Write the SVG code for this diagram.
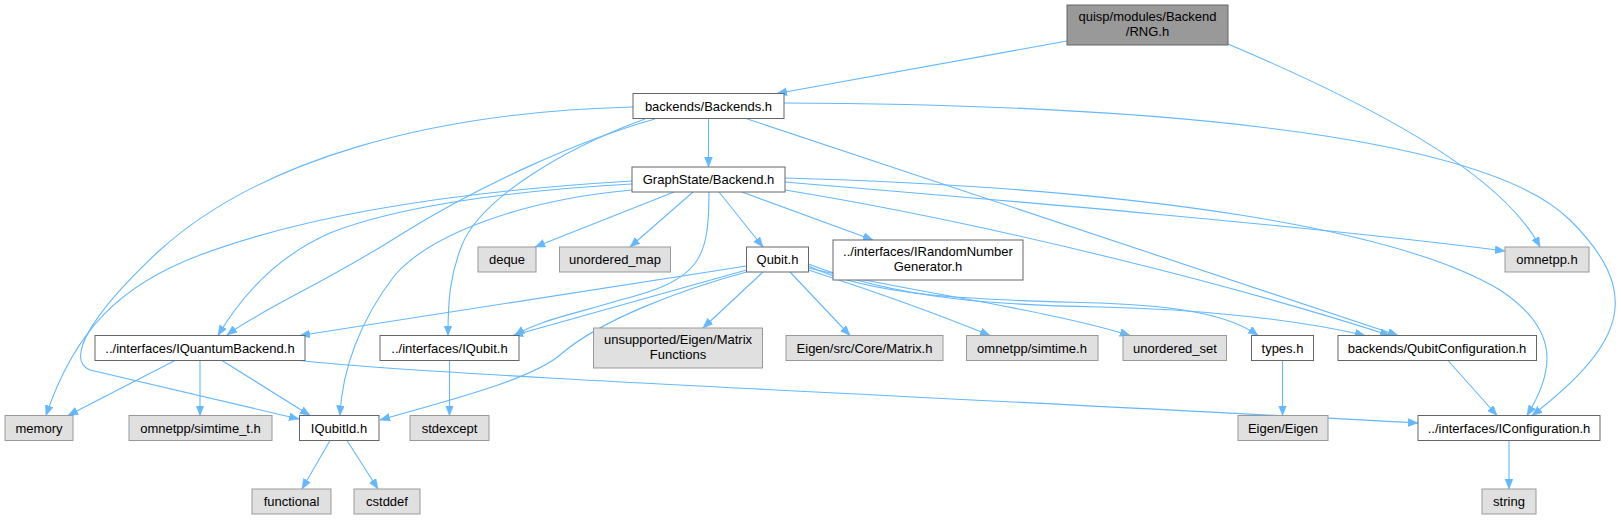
<svg xmlns="http://www.w3.org/2000/svg" width="1621" height="520" viewBox="0 0 1621 520">
<style>
.n rect{stroke-width:1}
.w rect{fill:#ffffff;stroke:#666666}
.g rect{fill:#e0e0e0;stroke:#999999}
.r rect{fill:#999999;stroke:#666666}
text{font-family:"Liberation Sans",Arial,Helvetica,sans-serif;font-size:13px;fill:#000000;text-anchor:middle}
.e path{fill:none;stroke:#63b8ff;stroke-width:1.1;marker-end:url(#a)}
</style>
<defs>
<marker id="a" markerUnits="userSpaceOnUse" markerWidth="11" markerHeight="9" refX="10" refY="4" orient="auto">
<path d="M0,0 L10,4 L0,8 z" fill="#63b8ff" stroke="#63b8ff" stroke-width="0.5"/>
</marker>
</defs>
<rect width="1621" height="520" fill="#ffffff"/>
<g id="edges" class="e">
<path d="M1067,41 L777,93.5"/>
<path d="M1228,44 C1360,100 1500,170 1540,247"/>
<path d="M708.5,118.5 L708.5,167"/>
<path d="M633,107 C430,112 260,160 160,250 C90,315 65,360 90,370 L299,419"/>
<path d="M655,119 C580,140 480,185 400,235 C330,280 260,310 227,335"/>
<path d="M645,119 C560,150 480,200 462,245 C450,275 448,300 448,335.5"/>
<path d="M746,118.5 L1398,335.5"/>
<path d="M784,103 C1250,105 1500,150 1570,220 C1640,290 1630,340 1532,415.5"/>
<path d="M674,192 L535,247"/>
<path d="M693,192 L630,247"/>
<path d="M719,192 L763,247"/>
<path d="M742,192 L873,240"/>
<path d="M785,182 C1000,200 1300,225 1505,251"/>
<path d="M785,190 C1000,225 1250,290 1390,335.5"/>
<path d="M785,178 C1150,188 1400,230 1500,290 C1560,330 1555,370 1527,415.5"/>
<path d="M632,181 C480,190 320,210 200,255 C120,285 75,330 46,415.5"/>
<path d="M632,184 C520,190 400,205 330,233 C280,255 245,290 218,335.5"/>
<path d="M632,190 C520,200 430,235 395,275 C360,320 342,370 340,415.5"/>
<path d="M709,192 C709,260 700,280 620,300 C570,315 535,322 515,335.5"/>
<path d="M746.5,266 L300,335.5"/>
<path d="M746.5,270 L513,335.5"/>
<path d="M746.5,272 C680,290 600,320 560,355 C530,380 450,400 380,420"/>
<path d="M763,272 L703,328"/>
<path d="M790,272 L850,335.5"/>
<path d="M808.5,270 C870,290 940,315 990,335.5"/>
<path d="M808.5,268 C900,290 1050,310 1130,335.5"/>
<path d="M808.5,266 C880,300 1000,300 1100,303 C1180,306 1230,315 1258,335.5"/>
<path d="M808.5,264 C900,300 1000,305 1100,307 C1200,309 1300,320 1365,335.5"/>
<path d="M175,360.5 L68,415.5"/>
<path d="M200,360.5 L200,415.5"/>
<path d="M222,360.5 L310,415.5"/>
<path d="M300,360.5 C420,375 1000,400 1418,423"/>
<path d="M449.5,360.5 L449.5,415.5"/>
<path d="M330,440.5 L302,489"/>
<path d="M347,440.5 L378,489"/>
<path d="M1282.5,360.5 L1282.5,415.5"/>
<path d="M1448,360.5 L1497,415.5"/>
<path d="M1509,440.5 L1509,489"/>
</g>
<g id="n_rng" class="n r"><rect x="1067" y="5" width="161" height="40"/><text x="1147.5" y="20.5">quisp/modules/Backend</text><text x="1147.5" y="35.5">/RNG.h</text></g>
<g id="n_backends" class="n w"><rect x="633" y="93.5" width="151" height="25"/><text x="708.5" y="110.5">backends/Backends.h</text></g>
<g id="n_graphstate" class="n w"><rect x="632" y="167" width="153" height="25"/><text x="708.5" y="184">GraphState/Backend.h</text></g>
<g id="n_deque" class="n g"><rect x="478" y="247" width="58" height="25"/><text x="507" y="264">deque</text></g>
<g id="n_unordered_map" class="n g"><rect x="559.5" y="247" width="111" height="25"/><text x="615" y="264">unordered_map</text></g>
<g id="n_qubit" class="n w"><rect x="746.5" y="247" width="62" height="25"/><text x="777.5" y="264">Qubit.h</text></g>
<g id="n_irng" class="n w"><rect x="833" y="240" width="190" height="40"/><text x="928" y="255.5">../interfaces/IRandomNumber</text><text x="928" y="270.5">Generator.h</text></g>
<g id="n_omnetpp" class="n g"><rect x="1505" y="247" width="84" height="25"/><text x="1547" y="264">omnetpp.h</text></g>
<g id="n_iquantumbackend" class="n w"><rect x="95" y="335.5" width="210" height="25"/><text x="200" y="352.5">../interfaces/IQuantumBackend.h</text></g>
<g id="n_iqubit" class="n w"><rect x="380" y="335.5" width="139" height="25"/><text x="449.5" y="352.5">../interfaces/IQubit.h</text></g>
<g id="n_matrixfunctions" class="n g"><rect x="593.5" y="328" width="169" height="40"/><text x="678" y="343.5">unsupported/Eigen/Matrix</text><text x="678" y="358.5">Functions</text></g>
<g id="n_eigenmatrix" class="n g"><rect x="786" y="335.5" width="157" height="25"/><text x="864.5" y="352.5">Eigen/src/Core/Matrix.h</text></g>
<g id="n_simtime" class="n g"><rect x="966.5" y="335.5" width="131.5" height="25"/><text x="1032" y="352.5">omnetpp/simtime.h</text></g>
<g id="n_unordered_set" class="n g"><rect x="1123" y="335.5" width="103.5" height="25"/><text x="1175" y="352.5">unordered_set</text></g>
<g id="n_types" class="n w"><rect x="1251.5" y="335.5" width="62" height="25"/><text x="1282.5" y="352.5">types.h</text></g>
<g id="n_qubitconfig" class="n w"><rect x="1338" y="335.5" width="198.5" height="25"/><text x="1437" y="352.5">backends/QubitConfiguration.h</text></g>
<g id="n_memory" class="n g"><rect x="5" y="415.5" width="68" height="25"/><text x="39" y="432.5">memory</text></g>
<g id="n_simtime_t" class="n g"><rect x="129" y="415.5" width="143" height="25"/><text x="200.5" y="432.5">omnetpp/simtime_t.h</text></g>
<g id="n_iqubitid" class="n w"><rect x="299.5" y="415.5" width="79.5" height="25"/><text x="339" y="432.5">IQubitId.h</text></g>
<g id="n_stdexcept" class="n g"><rect x="410" y="415.5" width="79" height="25"/><text x="449.5" y="432.5">stdexcept</text></g>
<g id="n_eigen" class="n g"><rect x="1238" y="415.5" width="90" height="25"/><text x="1283" y="432.5">Eigen/Eigen</text></g>
<g id="n_iconfiguration" class="n w"><rect x="1418" y="415.5" width="182" height="25"/><text x="1509" y="432.5">../interfaces/IConfiguration.h</text></g>
<g id="n_functional" class="n g"><rect x="252" y="489" width="79" height="25"/><text x="291.5" y="506">functional</text></g>
<g id="n_cstddef" class="n g"><rect x="354" y="489" width="66" height="25"/><text x="387" y="506">cstddef</text></g>
<g id="n_string" class="n g"><rect x="1482" y="489" width="54" height="25"/><text x="1509" y="506">string</text></g>
</svg>
